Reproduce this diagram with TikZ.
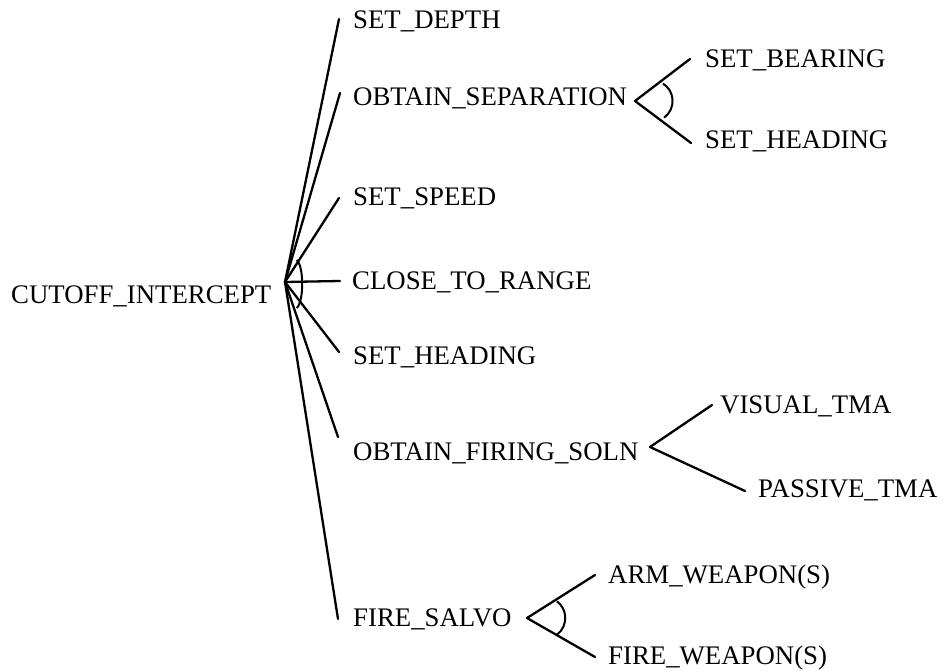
\documentclass[tikz,border=0pt]{standalone}
\usepackage{fontspec}
\setmainfont{Liberation Serif}
\begin{document}
\begin{tikzpicture}[x=1pt,y=-1pt,
  lbl/.style={anchor=base west,inner sep=0pt,font=\fontsize{26.8}{30}\selectfont},
  link/.style={line width=2.3pt,line cap=round},
  andarc/.style={line width=2pt}]
\useasboundingbox (0,0) rectangle (944,671);

% task labels (x = left edge, y = baseline)
\node[lbl] (root)   at (11,303)  {CUTOFF\_INTERCEPT};
\node[lbl] (depth)  at (353,29)  {SET\_DEPTH};
\node[lbl] (sep)    at (353,106) {OBTAIN\_SEPARATION};
\node[lbl] (speed)  at (353,205) {SET\_SPEED};
\node[lbl] (close)  at (352,289) {CLOSE\_TO\_RANGE};
\node[lbl] (head)   at (353,364) {SET\_HEADING};
\node[lbl] (firing) at (353,460) {OBTAIN\_FIRING\_SOLN};
\node[lbl] (salvo)  at (353,626) {FIRE\_SALVO};
\node[lbl] (bear)   at (705,68)  {SET\_BEARING};
\node[lbl] (head2)  at (705,149) {SET\_HEADING};
\node[lbl] (vis)    at (720,413) {VISUAL\_TMA};
\node[lbl] (pas)    at (758,497) {PASSIVE\_TMA};
\node[lbl] (arm)    at (608,583) {ARM\_WEAPON(S)};
\node[lbl] (fire)   at (608,664) {FIRE\_WEAPON(S)};

% fork points and connector ends
\coordinate (r0) at (285,282);
\coordinate (e-depth)  at (339,19);
\coordinate (e-sep)    at (340,93);
\coordinate (e-speed)  at (339,198);
\coordinate (e-close)  at (340,281);
\coordinate (e-head)   at (339,352);
\coordinate (e-firing) at (338,437);
\coordinate (e-salvo)  at (338,619);

\coordinate (s0) at (635,101);
\coordinate (e-bear)  at (690,59);
\coordinate (e-head2) at (691,143);

\coordinate (f0) at (650,447);
\coordinate (e-vis) at (712,405);
\coordinate (e-pas) at (745,491);

\coordinate (v0) at (527,618);
\coordinate (e-arm)  at (595,575);
\coordinate (e-fire) at (595,657);

% connectors
\foreach \c in {depth,sep,speed,close,head,firing,salvo}
  \draw[link] (r0) -- (e-\c);
\draw[link] (s0) -- (e-bear);
\draw[link] (s0) -- (e-head2);
\draw[link] (f0) -- (e-vis);
\draw[link] (f0) -- (e-pas);
\draw[link] (v0) -- (e-arm);
\draw[link] (v0) -- (e-fire);

% AND arcs
\draw[andarc] (296.7,260) .. controls (304,266) and (304,302) .. (296.7,308);
\draw[andarc] ([shift={(17,0)}]s0) ++(54:20.6) arc[start angle=54,end angle=-58,radius=20.6];
\draw[andarc] ([shift={(17.5,0)}]v0) ++(53:20.8) arc[start angle=53,end angle=-53,radius=20.8];
\end{tikzpicture}
\end{document}
